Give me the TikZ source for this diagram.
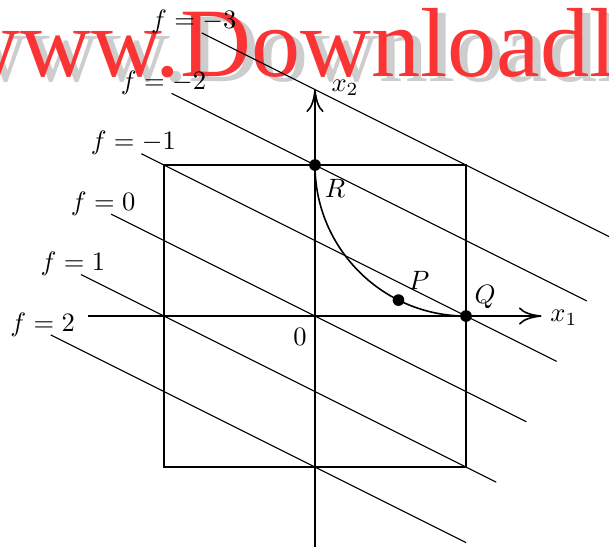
\documentclass[tikz,border=0pt]{standalone}
\usepackage{fontspec}
\newfontfamily\wmfont{Liberation Serif}
\usetikzlibrary{arrows.meta}
\definecolor{wmred}{RGB}{250,52,52}
\definecolor{wmgray}{RGB}{205,205,205}
\begin{document}
\begin{tikzpicture}[x=2cm,y=2cm,
  fline/.style={line width=0.45pt},
  frame/.style={line width=0.6pt},
  axis/.style={line width=0.6pt,-{To[length=8.5pt,width=6.5pt]}},
  dot/.style={circle,fill=black,inner sep=0pt,minimum size=4.4pt},
  lab/.style={inner sep=0pt},
  wm/.style={anchor=base west,inner sep=0pt,font=\wmfont\fontsize{37}{37}\selectfont}]
\clip (-2.086,-1.523) rectangle (1.947,2.093);
% watermark
\node[wm,text=wmgray] (wmshadow) at (-2.371,1.556) {www.Downloadly.ir};
\node[wm,text=wmred] (wmtext) at (-2.424,1.589) {www.Downloadly.ir};
% frame
\draw[frame] (-1,-1) rectangle (1,1);
% axes
\coordinate (xa) at (-1.5,0);
\coordinate (xb) at (1.5,0);
\coordinate (ya) at (0,-1.6);
\coordinate (yb) at (0,1.5);
\draw[axis] (xa) -- (xb);
\draw[axis] (ya) -- (yb);
\node[lab] (x1lab) at (1.649,-0.013) {$x_1$};
\node[lab] (x2lab) at (0.199,1.51) {$x_2$};
\node[lab] (zero) at (-0.099,-0.139) {$0$};
% level lines
\foreach \f/\k in {2/0,1/1,0/2,-1/3,-2/4,-3/5}{
  \coordinate (s\k) at ({-1.75+0.2*\k},{-0.125+0.4*\k});
  \coordinate (e\k) at ({1.0+0.2*\k},{-1.5+0.4*\k});
  \draw[fline] (s\k) -- (e\k);
  \node[anchor=base,inner sep=0pt] (fl\k) at ({-1.803+0.2*\k},{-0.099+0.4*\k}) {$f=\f$};
}
% curve
\coordinate (r) at (0,1);
\coordinate (q) at (1,0);
\coordinate (p) at (0.5528,0.1056);
\draw[frame] (r) arc[start angle=180,end angle=270,radius=1];
\node[dot] (R) at (r) {};
\node[dot] (Q) at (q) {};
\node[dot] (P) at (p) {};
\node[lab] (Rlab) at (0.132,0.848) {$R$};
\node[lab] (Plab) at (0.689,0.238) {$P$};
\node[lab] (Qlab) at (1.126,0.126) {$Q$};
\end{tikzpicture}
\end{document}
